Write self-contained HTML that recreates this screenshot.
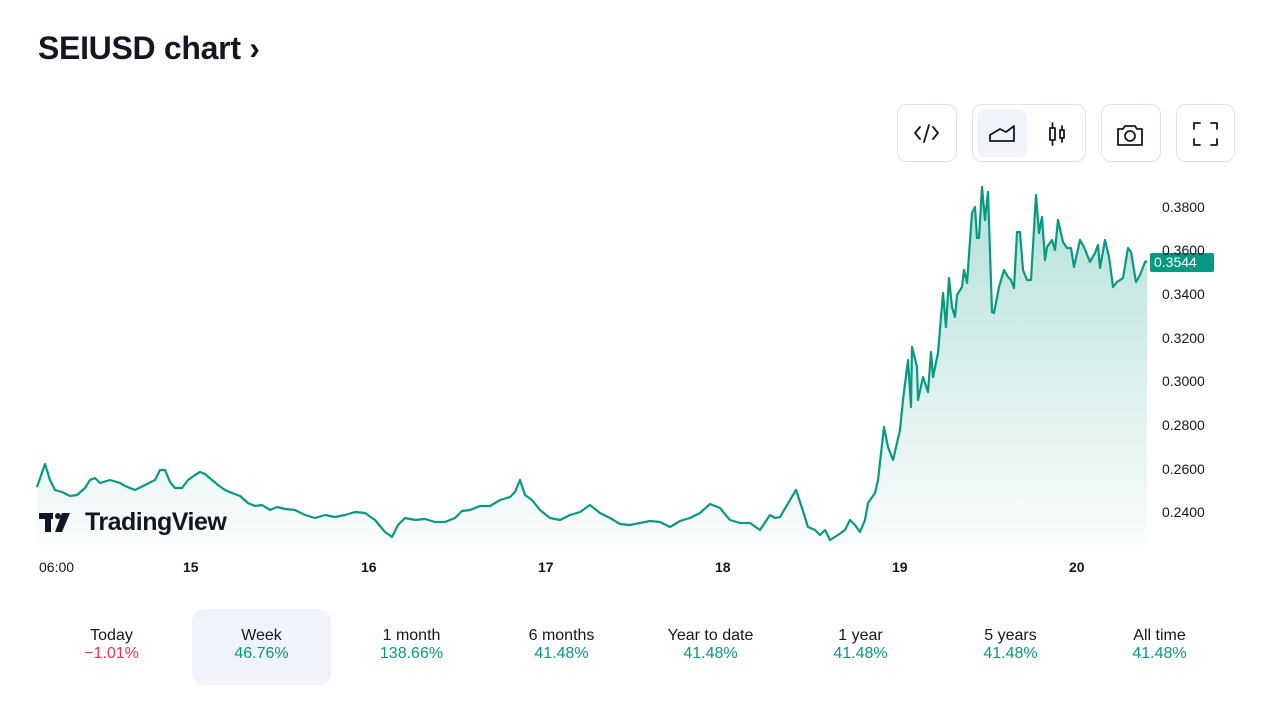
<!DOCTYPE html>
<html><head><meta charset="utf-8"><style>
body{margin:0;width:1280px;height:720px;background:#fff;font-family:"Liberation Sans",sans-serif;color:#131722;position:relative;overflow:hidden}
.t{position:absolute;left:38px;top:30px;font-size:32px;font-weight:bold;letter-spacing:-0.3px}
.btn{position:absolute;top:104px;height:58px;border:1px solid #e0e3eb;border-radius:10px;box-sizing:border-box}
.ax{position:absolute;font-size:14px;color:#131722}
.tab{position:absolute;top:609px;width:139px;height:76px;text-align:center;font-size:16px;border-radius:12px}
.tab .a{margin-top:18px}
.g{color:#089981}.r{color:#f23645}
</style></head><body>
<div class="t">SEIUSD chart ›</div>
<div class="btn" style="left:897px;width:60px"></div>
<div class="btn" style="left:972px;width:114px"><div style="position:absolute;left:4px;top:4px;width:50px;height:48px;background:#f0f3fa;border-radius:8px"></div></div>
<div class="btn" style="left:1101px;width:60px"></div>
<div class="btn" style="left:1176px;width:59px"></div>
<svg width="1280" height="720" style="position:absolute;left:0;top:0">
<g fill="none" stroke="#131722" stroke-width="1.8" stroke-linecap="round" stroke-linejoin="round">
<path d="M920 127l-5 6 5 6M933 127l5 6-5 6M929 125l-5 17"/>
<path d="M990 141h24v-15l-8 6-6-3-10 6z"/>
<rect x="1050" y="128" width="5" height="12"/><path d="M1052.5 123v5M1052.5 140v5"/><rect x="1060" y="130" width="4" height="8"/><path d="M1062 126v4M1062 138v4"/>
<path d="M1118 129h5l2-3h10l2 3h5v16h-24z"/><circle cx="1130" cy="136" r="5"/>
<path d="M1194 129v-6h6M1211 123h6v6M1217 139v6h-6M1200 145h-6v-6"/>
</g>
<defs><linearGradient id="gr" x1="0" y1="0" x2="0" y2="1"><stop offset="0" stop-color="#089981" stop-opacity="0.3"/><stop offset="1" stop-color="#089981" stop-opacity="0.02"/></linearGradient></defs>
<polygon fill="url(#gr)" points="37,545 37,487 45,464 50,480 55,490 62,492 70,496 77,495 85,488 90,480 95,478 100,483 110,480 120,483 125,486 135,490 145,485 155,480 160,470 165,470 170,482 175,488 182,488 188,480 195,475 200,472 205,474 212,480 218,485 225,490 232,493 240,496 248,503 255,506 262,505 270,510 277,507 285,509 295,510 305,515 315,518 325,515 335,517 345,515 355,512 365,513 375,520 385,532 392,537 398,525 405,518 415,520 425,519 435,522 445,522 455,518 462,511 470,510 480,506 490,506 500,500 510,497 515,492 520,480 525,495 532,500 540,510 550,518 560,520 570,515 580,512 590,505 600,513 610,518 620,524 630,525 640,523 650,521 660,522 670,527 680,521 690,518 700,513 710,504 720,508 730,520 740,523 750,523 760,530 770,515 775,518 780,517 790,500 796,490 802,508 808,527 815,530 820,535 825,530 830,540 838,535 845,530 850,520 855,525 860,532 865,520 868,503 875,493 878,480 884,427 888,447 893,460 900,430 903,400 908,360 911,407 912,347 917,367 918,400 923,377 928,392 931,352 933,377 938,353 943,293 946,327 949,278 952,307 955,317 957,295 962,287 964,270 967,283 972,213 975,207 977,238 979,238 982,187 985,220 988,192 992,312 994,313 999,287 1004,270 1008,277 1011,280 1014,288 1017,232 1020,232 1023,270 1027,280 1031,280 1036,195 1039,233 1042,217 1045,260 1047,247 1052,240 1055,250 1058,220 1063,242 1067,248 1071,248 1074,267 1080,240 1084,247 1090,262 1095,253 1098,245 1100,268 1105,240 1109,257 1113,287 1117,282 1123,278 1128,248 1131,252 1136,282 1140,275 1145,262 1147,261 1147,545"/>
<polyline fill="none" stroke="#089981" stroke-width="2.2" stroke-linejoin="round" points="37,487 45,464 50,480 55,490 62,492 70,496 77,495 85,488 90,480 95,478 100,483 110,480 120,483 125,486 135,490 145,485 155,480 160,470 165,470 170,482 175,488 182,488 188,480 195,475 200,472 205,474 212,480 218,485 225,490 232,493 240,496 248,503 255,506 262,505 270,510 277,507 285,509 295,510 305,515 315,518 325,515 335,517 345,515 355,512 365,513 375,520 385,532 392,537 398,525 405,518 415,520 425,519 435,522 445,522 455,518 462,511 470,510 480,506 490,506 500,500 510,497 515,492 520,480 525,495 532,500 540,510 550,518 560,520 570,515 580,512 590,505 600,513 610,518 620,524 630,525 640,523 650,521 660,522 670,527 680,521 690,518 700,513 710,504 720,508 730,520 740,523 750,523 760,530 770,515 775,518 780,517 790,500 796,490 802,508 808,527 815,530 820,535 825,530 830,540 838,535 845,530 850,520 855,525 860,532 865,520 868,503 875,493 878,480 884,427 888,447 893,460 900,430 903,400 908,360 911,407 912,347 917,367 918,400 923,377 928,392 931,352 933,377 938,353 943,293 946,327 949,278 952,307 955,317 957,295 962,287 964,270 967,283 972,213 975,207 977,238 979,238 982,187 985,220 988,192 992,312 994,313 999,287 1004,270 1008,277 1011,280 1014,288 1017,232 1020,232 1023,270 1027,280 1031,280 1036,195 1039,233 1042,217 1045,260 1047,247 1052,240 1055,250 1058,220 1063,242 1067,248 1071,248 1074,267 1080,240 1084,247 1090,262 1095,253 1098,245 1100,268 1105,240 1109,257 1113,287 1117,282 1123,278 1128,248 1131,252 1136,282 1140,275 1145,262 1147,261"/>
<rect x="1150" y="253" width="64" height="19" rx="2" fill="#089981"/>
<g fill="#131722"><rect x="39" y="513" width="14" height="6"/><rect x="45" y="513" width="6" height="19"/><circle cx="58" cy="516" r="3"/><path d="M62 513h8l-8 19h-7z"/></g>
</svg>
<div style="position:absolute;left:85px;top:508px;font-size:25px;font-weight:bold;color:#131722;letter-spacing:-0.5px">TradingView</div>
<div class="ax" style="left:1162px;top:199px">0.3800</div>
<div class="ax" style="left:1162px;top:242px">0.3600</div>
<div class="ax" style="left:1162px;top:286px">0.3400</div>
<div class="ax" style="left:1162px;top:330px">0.3200</div>
<div class="ax" style="left:1162px;top:373px">0.3000</div>
<div class="ax" style="left:1162px;top:417px">0.2800</div>
<div class="ax" style="left:1162px;top:461px">0.2600</div>
<div class="ax" style="left:1162px;top:504px">0.2400</div>
<div class="ax" style="left:1154px;top:254px;color:#fff;font-size:14px">0.3544</div>
<div class="ax" style="left:39px;top:559px">06:00</div>
<div class="ax" style="left:183px;top:559px;font-weight:bold">15</div>
<div class="ax" style="left:361px;top:559px;font-weight:bold">16</div>
<div class="ax" style="left:538px;top:559px;font-weight:bold">17</div>
<div class="ax" style="left:715px;top:559px;font-weight:bold">18</div>
<div class="ax" style="left:892px;top:559px;font-weight:bold">19</div>
<div class="ax" style="left:1069px;top:559px;font-weight:bold">20</div>
<div class="tab" style="left:42px"><div class="a">Today</div><div class="r">−1.01%</div></div>
<div class="tab" style="left:192px;background:#f0f3fa"><div class="a">Week</div><div class="g">46.76%</div></div>
<div class="tab" style="left:342px"><div class="a">1 month</div><div class="g">138.66%</div></div>
<div class="tab" style="left:492px"><div class="a">6 months</div><div class="g">41.48%</div></div>
<div class="tab" style="left:641px"><div class="a">Year to date</div><div class="g">41.48%</div></div>
<div class="tab" style="left:791px"><div class="a">1 year</div><div class="g">41.48%</div></div>
<div class="tab" style="left:941px"><div class="a">5 years</div><div class="g">41.48%</div></div>
<div class="tab" style="left:1090px"><div class="a">All time</div><div class="g">41.48%</div></div>
</body></html>
